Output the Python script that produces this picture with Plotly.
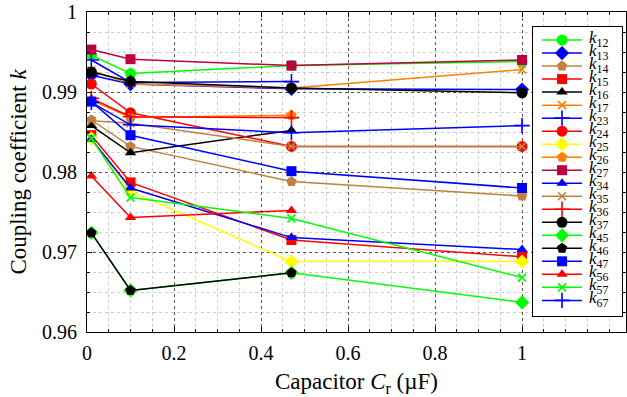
import plotly.graph_objects as go

# ---------------- data ----------------
cap_uF = [0.01, 0.1, 0.47, 1.0]

k12 = [0.9946, 0.9923, 0.9933, 0.9938]
k13 = [0.9921, 0.9910, 0.9904, 0.9903]
k14 = [0.9865, 0.9832, 0.9788, 0.9770]
k15 = [0.9846, 0.9787, 0.9715, 0.9694]
k16 = [0.9858, 0.9824, 0.9852, None]
k17 = [0.9927, 0.9910, 0.9905, 0.9928]
k23 = [0.9940, 0.9912, 0.9913, None]
k24 = [0.9910, 0.9874, 0.9832, 0.9832]
k25 = [0.9842, 0.9776, 0.9688, 0.9688]
k26 = [0.9890, 0.9868, 0.9871, None]
k27 = [0.9953, 0.9941, 0.9933, 0.9940]
k34 = [0.9841, 0.9780, 0.9718, 0.9703]
k35 = [0.9864, 0.9861, 0.9832, 0.9832]
k36 = [0.9892, 0.9869, 0.9868, None]
k37 = [0.9925, 0.9913, 0.9905, 0.9899]
k45 = [0.9724, 0.9652, 0.9674, 0.9637]
k46 = [0.9724, 0.9652, 0.9674, None]
k47 = [0.9888, 0.9846, 0.9801, 0.9780]
k56 = [0.9795, 0.9743, 0.9752, None]
k57 = [0.9842, 0.9768, 0.9742, 0.9668]
k67 = [0.9887, 0.9859, 0.9849, 0.9858]

x_ticks = [0, 0.2, 0.4, 0.6, 0.8, 1]
x_tick_labels = ["0", "0.2", "0.4", "0.6", "0.8", "1"]
y_ticks = [0.96, 0.97, 0.98, 0.99, 1.0]
y_tick_labels = ["0.96", "0.97", "0.98", "0.99", "1"]

# ---------------- styles ----------------
GREEN, BLUE, BROWN, RED = "#00FF00", "#0000FF", "#BF8040", "#FF0000"
BLACK, ORANGE, YELLOW, PURPLE = "#000000", "#FF8000", "#FFFF00", "#BF0040"

series = [
    ("12", k12, GREEN, "circle"),
    ("13", k13, BLUE, "diamond"),
    ("14", k14, BROWN, "pentagon"),
    ("15", k15, RED, "square"),
    ("16", k16, BLACK, "triangle-up"),
    ("17", k17, ORANGE, "x-thin"),
    ("23", k23, BLUE, "cross-thin"),
    ("24", k24, RED, "circle"),
    ("25", k25, YELLOW, "diamond"),
    ("26", k26, ORANGE, "pentagon"),
    ("27", k27, PURPLE, "square"),
    ("34", k34, BLUE, "triangle-up"),
    ("35", k35, BROWN, "x-thin"),
    ("36", k36, RED, "cross-thin"),
    ("37", k37, BLACK, "circle"),
    ("45", k45, GREEN, "diamond"),
    ("46", k46, BLACK, "pentagon"),
    ("47", k47, BLUE, "square"),
    ("56", k56, RED, "triangle-up"),
    ("57", k57, GREEN, "x-thin"),
    ("67", k67, BLUE, "cross-thin"),
]

SIZES = {"circle": 11, "diamond": 11, "pentagon": 11, "square": 10,
         "triangle-up": 10, "x-thin": 8, "cross-thin": 11}

FONT = "Liberation Serif"


def marker_style(color, symbol):
    if symbol.endswith("-thin"):
        return dict(symbol=symbol, size=SIZES[symbol], color=color,
                    line=dict(color=color, width=1.6))
    return dict(symbol=symbol, size=SIZES[symbol], color=color,
                line=dict(width=0))


fig = go.Figure()

for name, vals, color, symbol in series:
    fig.add_trace(go.Scatter(
        x=cap_uF, y=vals, mode="lines+markers", name="k" + name,
        line=dict(color=color, width=1.5),
        marker=marker_style(color, symbol),
        showlegend=False, xaxis="x", yaxis="y",
    ))

# ---------------- custom legend (own axes) ----------------
n = len(series)
step = 1.0 / (n + 1.2)
fig.add_trace(go.Scatter(
    x=[0, 1, 1, 0, 0], y=[0, 0, 1, 1, 0], mode="lines", fill="toself",
    fillcolor="white", line=dict(width=0), showlegend=False,
    hoverinfo="skip", xaxis="x2", yaxis="y2",
))
annotations = []
for i, (name, vals, color, symbol) in enumerate(series):
    yy = 1 - step * (i + 1)
    fig.add_trace(go.Scatter(
        x=[0.10, 0.55], y=[yy, yy], mode="lines",
        line=dict(color=color, width=1.5),
        showlegend=False, hoverinfo="skip", xaxis="x2", yaxis="y2",
    ))
    fig.add_trace(go.Scatter(
        x=[0.326], y=[yy], mode="markers", marker=marker_style(color, symbol),
        showlegend=False, hoverinfo="skip", xaxis="x2", yaxis="y2",
    ))
    annotations.append(dict(
        x=0.61, y=yy, xref="x2", yref="y2", xanchor="left", yanchor="middle",
        text="<i>k</i><sub>" + name + "</sub>", showarrow=False, yshift=1,
        font=dict(family=FONT, size=17, color="black"),
    ))

axis_common = dict(
    showline=True, linecolor="black", linewidth=1.2, mirror="allticks",
    ticks="inside", ticklen=5, tickcolor="black", tickwidth=1,
    showgrid=True, gridcolor="#555555", griddash="dot", gridwidth=1,
    zeroline=False, automargin=False,
    tickfont=dict(family=FONT, size=20, color="black"),
)

fig.update_layout(
    width=627, height=397,
    margin=dict(l=87, r=1, t=12, b=65),
    paper_bgcolor="white", plot_bgcolor="white",
    showlegend=False,
    annotations=annotations,
    xaxis=dict(
        axis_common, range=[0, 1.239], tickmode="array",
        tickvals=x_ticks, ticktext=x_tick_labels, ticklabelstandoff=3,
        minor=dict(tickmode="linear", tick0=0, dtick=0.05, ticks="inside",
                   ticklen=3, tickcolor="black", showgrid=True,
                   gridcolor="#cccccc", griddash="dot", gridwidth=1),
        title=dict(text="Capacitor <i>C</i><sub>r</sub> (µF)",
                   font=dict(family=FONT, size=23, color="black"), standoff=10),
    ),
    yaxis=dict(
        axis_common, range=[0.96, 1.0], tickmode="array",
        tickvals=y_ticks, ticktext=y_tick_labels, ticklabelstandoff=5,
        minor=dict(tickmode="linear", tick0=0.96, dtick=0.0025, ticks="inside",
                   ticklen=3, tickcolor="black", showgrid=True,
                   gridcolor="#cccccc", griddash="dot", gridwidth=1),
        title=dict(text="Coupling coefficient <i>k</i>",
                   font=dict(family=FONT, size=23, color="black"), standoff=8),
    ),
    xaxis2=dict(domain=[0.8275, 0.9926], range=[0, 1], anchor="y2",
                showline=True, mirror=True, linecolor="black", linewidth=1.2,
                showgrid=False, zeroline=False, showticklabels=False, ticks="",
                automargin=False),
    yaxis2=dict(domain=[0.05, 0.953], range=[0, 1], anchor="x2",
                showline=True, mirror=True, linecolor="black", linewidth=1.2,
                showgrid=False, zeroline=False, showticklabels=False, ticks="",
                automargin=False),
)

fig.write_html("out.html", config={"displayModeBar": False},
               post_script="document.body.style.margin='0';document.body.style.padding='0';")
